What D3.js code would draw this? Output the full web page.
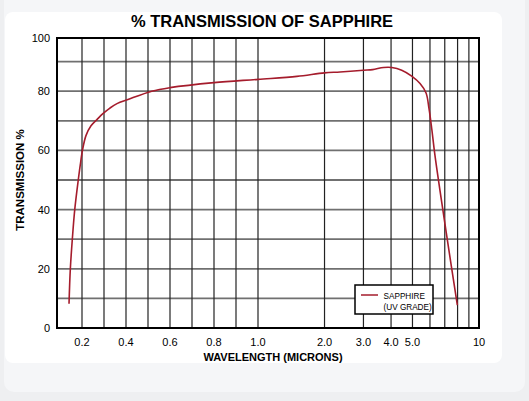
<!DOCTYPE html>
<html lang="en">
<head>
<meta charset="UTF-8">
<title>% Transmission of Sapphire</title>
<script src="https://d3js.org/d3.v7.min.js"></script>
<style>
    body { margin: 0; background: #eeeff1; }
    svg { display: block; font-family: "Liberation Sans", Arial, Helvetica, sans-serif; }
</style>
</head>
<body>
<svg width="529" height="401"></svg>
<script>
    // wavelength (microns) and % transmission
    const wavelength = [0.141, 0.147, 0.156, 0.167, 0.183, 0.192, 0.202, 0.218, 0.241, 0.268, 0.295, 0.327, 0.359, 0.409,
        0.517, 0.6, 0.8, 1.0, 1.5, 2.0, 2.35, 3.0, 3.3, 3.7, 4.03, 4.47, 4.96, 5.41, 5.76, 5.94, 6.11, 6.32, 7.14, 7.98];
    const transmission = [8.2, 20, 30, 40, 50, 55, 60, 65, 68.3, 70.4, 72.4, 74.3, 75.8, 77.2,
        80, 81.2, 82.9, 84.0, 85.0, 86.2, 86.5, 87.1, 87.3, 88.0, 88.0, 87.1, 85.1, 82.6, 79.4, 74.1, 67.4, 58.3, 31.3, 7.7];

    const xTickValues = [0.2, 0.4, 0.6, 0.8, 1, 2, 3, 4, 5, 10];
    const xTickLabels = ["0.2", "0.4", "0.6", "0.8", "1.0", "2.0", "3.0", "4.0", "5.0", "10"];
    const xGrid = [0.2, 0.3, 0.4, 0.5, 0.6, 0.7, 0.8, 0.9, 1, 2, 3, 4, 5, 6, 7, 8, 9];
    const yTickValues = [0, 20, 40, 60, 80];
    const yGrid = [10, 20, 30, 40, 50, 60, 70, 80, 90];
    const seriesName = ["SAPPHIRE", "(UV GRADE)"];

    const svg = d3.select("svg");
    const plotL = 57, plotR = 479, plotT = 38, plotB = 328;

    // the chart is linear below 1 micron and logarithmic above
    const xLin = d3.scaleLinear().domain([0.2, 1]).range([82, 258]);
    const xLog = d3.scaleLog().domain([1, 10]).range([258, plotR]);
    const x = v => v < 1 ? xLin(v) : xLog(v);
    const y = d3.scaleLinear().domain([0, 10]).range([plotB, plotB - 29.6]);

    // backgrounds
    svg.append("rect").attr("x", 4).attr("y", -12).attr("width", 521).attr("height", 404)
        .attr("rx", 10).attr("fill", "#f5f6f8");
    svg.append("rect").attr("x", 5).attr("y", 12).attr("width", 497).attr("height", 351)
        .attr("rx", 8).attr("fill", "#ffffff");

    svg.append("text")
        .attr("x", 262).attr("y", 27)
        .attr("text-anchor", "middle")
        .attr("font-size", "16.5px").attr("font-weight", "bold")
        .text("% TRANSMISSION OF SAPPHIRE");

    // grid
    svg.append("g").selectAll("line")
        .data(yGrid)
        .join("line")
        .attr("x1", plotL).attr("x2", plotR)
        .attr("y1", d => y(d)).attr("y2", d => y(d))
        .attr("stroke", "#707070").attr("stroke-width", 1.8);

    svg.append("g").selectAll("line")
        .data(xGrid)
        .join("line")
        .attr("x1", d => x(d)).attr("x2", d => x(d))
        .attr("y1", plotT).attr("y2", plotB)
        .attr("stroke", "#222").attr("stroke-width", 1.2);

    svg.append("rect")
        .attr("x", plotL).attr("y", plotT)
        .attr("width", plotR - plotL).attr("height", plotB - plotT)
        .attr("fill", "none").attr("stroke", "#000").attr("stroke-width", 2);

    // tick labels
    svg.append("g").selectAll("text")
        .data(xTickValues)
        .join("text")
        .attr("x", d => x(d)).attr("y", 346)
        .attr("text-anchor", "middle").attr("font-size", "11px")
        .text((d, i) => xTickLabels[i]);

    svg.append("g").selectAll("text")
        .data(yTickValues)
        .join("text")
        .attr("x", 50).attr("y", d => y(d) + 4)
        .attr("text-anchor", "end").attr("font-size", "11px")
        .text(d => d);
    svg.append("text")
        .attr("x", 50).attr("y", plotT + 4)
        .attr("text-anchor", "end").attr("font-size", "11px")
        .text("100");

    svg.append("text")
        .attr("x", 273).attr("y", 361)
        .attr("text-anchor", "middle")
        .attr("font-size", "11px").attr("font-weight", "bold")
        .text("WAVELENGTH (MICRONS)");

    svg.append("text")
        .attr("transform", "translate(24,180) rotate(-90)")
        .attr("text-anchor", "middle")
        .attr("font-size", "11.5px").attr("font-weight", "bold")
        .text("TRANSMISSION %");

    // curve
    const pts = wavelength.map((w, i) => [w, transmission[i]]);
    const line = d3.line()
        .x(d => x(d[0]))
        .y(d => y(d[1]))
        .curve(d3.curveCatmullRom.alpha(0.5));

    svg.append("path")
        .datum(pts)
        .attr("d", line)
        .attr("fill", "none")
        .attr("stroke", "#a51c2c")
        .attr("stroke-width", 1.6);

    // legend
    const lg = svg.append("g");
    lg.append("rect").attr("x", 355).attr("y", 285).attr("width", 78).attr("height", 29)
        .attr("fill", "#fff").attr("stroke", "#000").attr("stroke-width", 1.5);
    lg.append("line").attr("x1", 361).attr("x2", 378).attr("y1", 295).attr("y2", 295)
        .attr("stroke", "#a51c2c").attr("stroke-width", 1.5);
    lg.selectAll("text.lab")
        .data(seriesName)
        .join("text")
        .attr("class", "lab")
        .attr("x", 383.5).attr("y", (d, i) => 298.5 + i * 11)
        .attr("font-size", "8.2px")
        .text(d => d);
</script>
</body>
</html>
